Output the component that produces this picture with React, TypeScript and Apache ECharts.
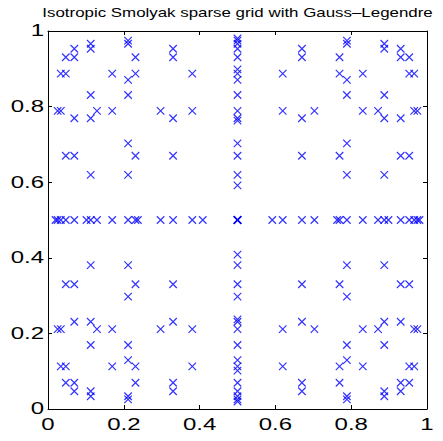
import React, { useEffect, useRef } from "react";
import * as echarts from "echarts";

// 1-D Gauss–Legendre nodes on [0,1], n = 1..8 points
const gl1 = [0.5];
const gl2 = [0.2113, 0.7887];
const gl3 = [0.1127, 0.5, 0.8873];
const gl4 = [0.0694, 0.33, 0.67, 0.9306];
const gl5 = [0.0469, 0.2308, 0.5, 0.7692, 0.9531];
const gl6 = [0.0338, 0.1694, 0.3807, 0.6193, 0.8306, 0.9662];
const gl7 = [0.0254, 0.1292, 0.2971, 0.5, 0.7029, 0.8708, 0.9746];
const gl8 = [0.0199, 0.1017, 0.2372, 0.4083, 0.5917, 0.7628, 0.8983, 0.9801];
const rules = [gl1, gl2, gl3, gl4, gl5, gl6, gl7, gl8];

// tensor grids (points in x, points in y) that make up the sparse grid
const tensorLevels = [
  [1, 8], [2, 7], [3, 6], [4, 5], [5, 4], [6, 3], [7, 2], [8, 1],
  [1, 7], [2, 6], [3, 5], [4, 4], [5, 3], [6, 2], [7, 1],
];

const tickValues = [0, 0.2, 0.4, 0.6, 0.8, 1];
const tickLabels = ["0", "0.2", "0.4", "0.6", "0.8", "1"];
const titleText = "Isotropic Smolyak sparse grid with Gauss\u2013Legendre";

export default function App() {
  const ref = useRef<HTMLDivElement>(null);
  useEffect(() => {
    const chart = echarts.init(ref.current!, null, { renderer: "svg" });
    const data: number[][] = [];
    for (const [i, j] of tensorLevels) {
      for (const x of rules[i - 1]) for (const y of rules[j - 1]) data.push([x, y]);
    }
    const axisCommon: any = {
      type: "value",
      min: 0,
      max: 1,
      interval: 0.2,
      axisLine: { show: true, onZero: false, lineStyle: { color: "#000", width: 1 } },
      axisTick: { show: true, inside: true, length: 4, lineStyle: { color: "#000", width: 1 } },
      axisLabel: { show: false },
      splitLine: { show: false },
    };
    chart.setOption({
      animation: false,
      grid: { left: 48, top: 31, width: 379, height: 378, show: false },
      xAxis: [
        { ...axisCommon, position: "bottom" },
        { ...axisCommon, position: "top" },
      ],
      yAxis: [
        { ...axisCommon, position: "left" },
        { ...axisCommon, position: "right" },
      ],
      series: [
        {
          type: "scatter",
          xAxisIndex: 0,
          yAxisIndex: 0,
          data,
          symbol: "path://M0,0L10,10M10,0L0,10",
          symbolSize: 7.5,
          itemStyle: { color: "none", borderColor: "#0000ff", borderWidth: 1.2 },
          silent: true,
        },
      ],
    });

    const sx = 1.5;
    const font = '16px "Liberation Sans", Arial, sans-serif';
    const elements: any[] = [];
    tickValues.forEach((v, k) => {
      const [px] = chart.convertToPixel({ gridIndex: 0 }, [v, 0]) as number[];
      const [, py0] = chart.convertToPixel({ gridIndex: 0 }, [0, 0]) as number[];
      elements.push({
        type: "text",
        x: px,
        y: py0 + 16,
        scaleX: sx,
        silent: true,
        style: {
          text: tickLabels[k],
          font,
          fill: "#000",
          align: "center",
          textAlign: "center",
          verticalAlign: "middle",
          textVerticalAlign: "middle",
        },
      });
      const [px0, py] = chart.convertToPixel({ gridIndex: 0 }, [0, v]) as number[];
      elements.push({
        type: "text",
        x: px0 - 4,
        y: py,
        scaleX: sx,
        silent: true,
        style: {
          text: tickLabels[k],
          font,
          fill: "#000",
          align: "right",
          textAlign: "right",
          verticalAlign: "middle",
          textVerticalAlign: "middle",
        },
      });
    });
    const [cx] = chart.convertToPixel({ gridIndex: 0 }, [0.5, 0]) as number[];
    elements.push({
      type: "text",
      x: cx,
      y: 12,
      scaleX: 1.3,
      silent: true,
      style: {
        text: titleText,
        font: '13px "Liberation Sans", Arial, sans-serif',
        fill: "#000",
        align: "center",
        textAlign: "center",
        verticalAlign: "middle",
        textVerticalAlign: "middle",
      },
    });
    chart.setOption({ graphic: { elements } });
    return () => chart.dispose();
  }, []);
  return (
    <div
      ref={ref}
      style={{ position: "absolute", left: 0, top: 0, width: 443, height: 441 }}
    />
  );
}
